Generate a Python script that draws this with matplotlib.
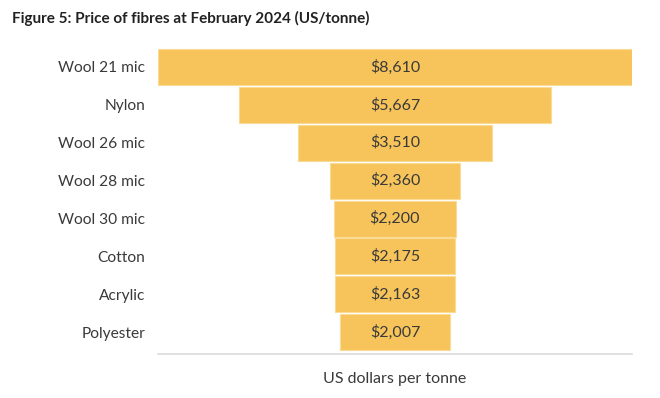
import matplotlib.pyplot as plt

# data
fibres = ['Wool 21 mic', 'Nylon', 'Wool 26 mic', 'Wool 28 mic',
          'Wool 30 mic', 'Cotton', 'Acrylic', 'Polyester']
prices = [8610, 5667, 3510, 2360, 2200, 2175, 2163, 2007]

plt.rcParams['font.family'] = ['Lato', 'DejaVu Sans']

fig = plt.figure(figsize=(6.6, 3.98), dpi=100)
# axes spans x 158..632 px, y 48..354 px
ax = fig.add_axes([158 / 660, 1 - 354 / 398, 474 / 660, 306 / 398])

# funnel: every bar centred on zero
pos = range(len(fibres))
lefts = [-p / 2 for p in prices]
ax.barh(pos, prices, left=lefts, height=0.95, color='#F6C45A',
        edgecolor='#FADB95', linewidth=0.8)

for i, p in zip(pos, prices):
    ax.text(0, i, f'${p:,}', ha='center', va='center',
            fontsize=11.5, color='#3a3a3a')

top = max(prices)
ax.set_xlim(-top / 2, top / 2)
ax.set_ylim(len(fibres) - 0.425, -0.5)

ax.set_yticks(list(pos))
ax.set_yticklabels(fibres, fontsize=11.2, color='#3a3a3a')
ax.tick_params(axis='y', length=0, pad=9)
ax.set_xticks([])

for side in ['top', 'right', 'left']:
    ax.spines[side].set_visible(False)
ax.spines['bottom'].set_color('#dcdcdc')
ax.spines['bottom'].set_linewidth(1.2)

ax.set_xlabel('US dollars per tonne', fontsize=11.5, color='#3a3a3a', labelpad=13)

fig.text(12 / 660, 1 - 18 / 398, 'Figure 5: Price of fibres at February 2024 (US/tonne)',
         fontsize=11, fontweight='bold', color='#222222', va='center')

fig.savefig('out.png', dpi=100)
